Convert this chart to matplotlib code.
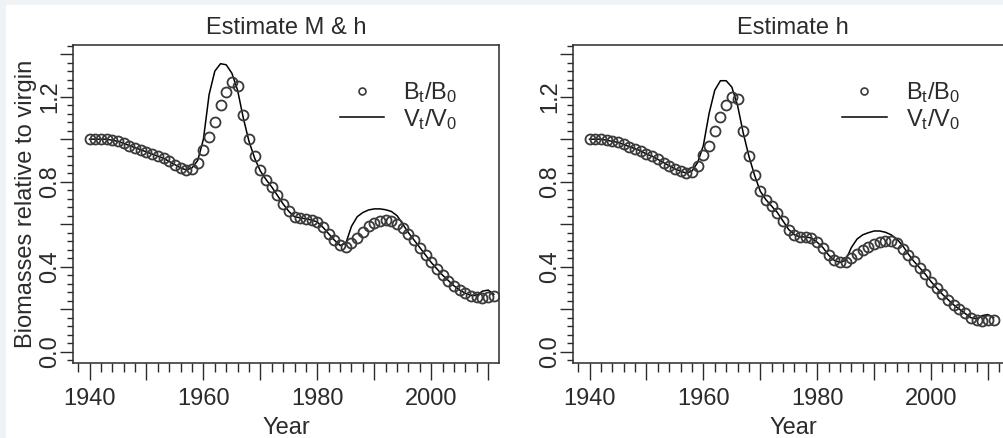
import numpy as np
import matplotlib.pyplot as plt
from matplotlib.ticker import MultipleLocator
from matplotlib.lines import Line2D

plt.rcParams['font.family'] = ['Liberation Sans', 'DejaVu Sans']
plt.rcParams['mathtext.fontset'] = 'custom'
plt.rcParams['mathtext.rm'] = 'Liberation Sans'
plt.rcParams['mathtext.it'] = 'Liberation Sans'

years = np.arange(1940, 2012)

# left panel: estimate M & h
B_mh = [1.00, 1.00, 1.00, 1.00, 0.995, 0.99, 0.98, 0.97, 0.96, 0.95,
        0.94, 0.93, 0.92, 0.91, 0.895, 0.88, 0.865, 0.855, 0.86, 0.89,
        0.95, 1.01, 1.08, 1.16, 1.22, 1.27, 1.25, 1.115, 1.00, 0.92,
        0.856, 0.81, 0.775, 0.735, 0.695, 0.66, 0.635, 0.63, 0.625, 0.62,
        0.61, 0.585, 0.555, 0.525, 0.50, 0.495, 0.51, 0.535, 0.565, 0.59,
        0.605, 0.615, 0.62, 0.615, 0.60, 0.58, 0.555, 0.525, 0.49, 0.455,
        0.42, 0.39, 0.36, 0.335, 0.31, 0.29, 0.275, 0.262, 0.256, 0.255,
        0.258, 0.262]
V_mh = [1.00, 1.00, 1.00, 1.00, 0.995, 0.99, 0.98, 0.97, 0.96, 0.95,
        0.94, 0.93, 0.92, 0.91, 0.895, 0.88, 0.865, 0.855, 0.865, 0.90,
        1.00, 1.21, 1.32, 1.355, 1.35, 1.31, 1.23, 1.10, 0.99, 0.91,
        0.85, 0.81, 0.775, 0.735, 0.695, 0.66, 0.635, 0.63, 0.625, 0.62,
        0.61, 0.585, 0.555, 0.525, 0.50, 0.51, 0.59, 0.635, 0.655, 0.667,
        0.672, 0.672, 0.668, 0.66, 0.64, 0.60, 0.56, 0.525, 0.49, 0.455,
        0.42, 0.39, 0.36, 0.335, 0.31, 0.29, 0.275, 0.265, 0.265, 0.285,
        0.29, 0.27]

# right panel: estimate h
B_h = [1.00, 1.00, 1.00, 0.995, 0.99, 0.985, 0.975, 0.965, 0.955, 0.945,
       0.93, 0.92, 0.905, 0.89, 0.875, 0.86, 0.85, 0.84, 0.845, 0.875,
       0.925, 0.97, 1.04, 1.105, 1.16, 1.20, 1.19, 1.04, 0.92, 0.83,
       0.755, 0.715, 0.685, 0.655, 0.615, 0.575, 0.55, 0.54, 0.54, 0.535,
       0.515, 0.49, 0.455, 0.43, 0.42, 0.42, 0.44, 0.46, 0.48, 0.495,
       0.505, 0.515, 0.52, 0.52, 0.51, 0.485, 0.455, 0.425, 0.395, 0.365,
       0.33, 0.30, 0.27, 0.245, 0.22, 0.20, 0.18, 0.16, 0.148, 0.145,
       0.148, 0.15]
V_h = [1.00, 1.00, 1.00, 0.995, 0.99, 0.985, 0.975, 0.965, 0.955, 0.945,
       0.93, 0.92, 0.905, 0.89, 0.875, 0.86, 0.85, 0.84, 0.85, 0.89,
       0.97, 1.12, 1.23, 1.275, 1.275, 1.245, 1.16, 1.03, 0.92, 0.83,
       0.755, 0.715, 0.685, 0.655, 0.615, 0.575, 0.55, 0.54, 0.54, 0.535,
       0.515, 0.49, 0.455, 0.43, 0.42, 0.43, 0.49, 0.53, 0.55, 0.56,
       0.568, 0.568, 0.562, 0.55, 0.53, 0.50, 0.46, 0.425, 0.395, 0.365,
       0.33, 0.30, 0.27, 0.245, 0.22, 0.20, 0.18, 0.16, 0.155, 0.17,
       0.175, 0.16]

titles = ["Estimate M & h", "Estimate h"]
xtick_labels = [1940, 1960, 1980, 2000]
ytick_labels = [0.0, 0.4, 0.8, 1.2]

ink = '#2b2b2b'
fs = 17

fig = plt.figure(figsize=(10.04, 4.38), dpi=100, facecolor='#eff3f5')
fig.patches.append(plt.Rectangle((6/1004, 0), 1, 1 - 5/438, transform=fig.transFigure,
                                 facecolor='white', edgecolor='none', zorder=-1))

ax1 = fig.add_axes([73/1004, 75/438, 426/1004, 318/438])
ax2 = fig.add_axes([573/1004, 75/438, 440/1004, 318/438])
panels = [(ax1, B_mh, V_mh, (1937.1, 2011.9)),
          (ax2, B_h, V_h, (1937.1, 2014.4))]

for i, (ax, B, V, xl) in enumerate(panels):
    ax.plot(years, V, color='black', lw=1.1, zorder=2)
    ax.plot(years, B, 'o', ms=7.2, mfc='none', mec='#3a3a3a', mew=1.3, zorder=3)
    ax.set_xlim(*xl)
    ax.set_ylim(-0.053, 1.443)
    ax.set_title(titles[i], fontsize=fs, color=ink, pad=8)
    ax.set_xlabel("Year", fontsize=fs, color=ink, labelpad=5)
    if i == 0:
        ax.set_ylabel("Biomasses relative to virgin", fontsize=fs, color=ink, labelpad=1.5)

    ax.xaxis.set_major_locator(MultipleLocator(10))
    ax.xaxis.set_minor_locator(MultipleLocator(2))
    ax.set_xticklabels(['%d' % t if int(round(t)) in xtick_labels else '' for t in ax.get_xticks()])
    ax.yaxis.set_major_locator(MultipleLocator(0.2))
    ax.yaxis.set_minor_locator(MultipleLocator(0.04))
    ax.set_yticklabels(['%.1f' % t if np.isclose(ytick_labels, t).any() else ''
                        for t in ax.get_yticks()], rotation=90, va='center')
    ax.tick_params(axis='x', which='major', length=12, width=1, color=ink, labelsize=fs,
                   labelcolor=ink, pad=6)
    ax.tick_params(axis='x', which='minor', length=6.5, width=1, color=ink)
    ax.tick_params(axis='y', which='major', length=9.5, width=1, color=ink, labelsize=fs,
                   labelcolor=ink, pad=-1)
    ax.tick_params(axis='y', which='minor', length=4, width=1, color=ink)
    for s in ax.spines.values():
        s.set_color(ink)
        s.set_linewidth(1.1)

    handles = [Line2D([], [], ls='none', marker='o', ms=5, mfc='none', mec='#3a3a3a', mew=1.2),
               Line2D([], [], color='black', lw=1.1)]
    ax.legend(handles, [r'$\mathregular{B_t/B_0}$', r'$\mathregular{V_t/V_0}$'],
              loc='upper left', bbox_to_anchor=(0.576 if i == 0 else 0.563, 0.955),
              frameon=False, fontsize=fs, handlelength=1.9, handletextpad=0.8,
              labelspacing=0.05, labelcolor=ink)

fig.savefig('out.png', dpi=100, facecolor=fig.get_facecolor())
